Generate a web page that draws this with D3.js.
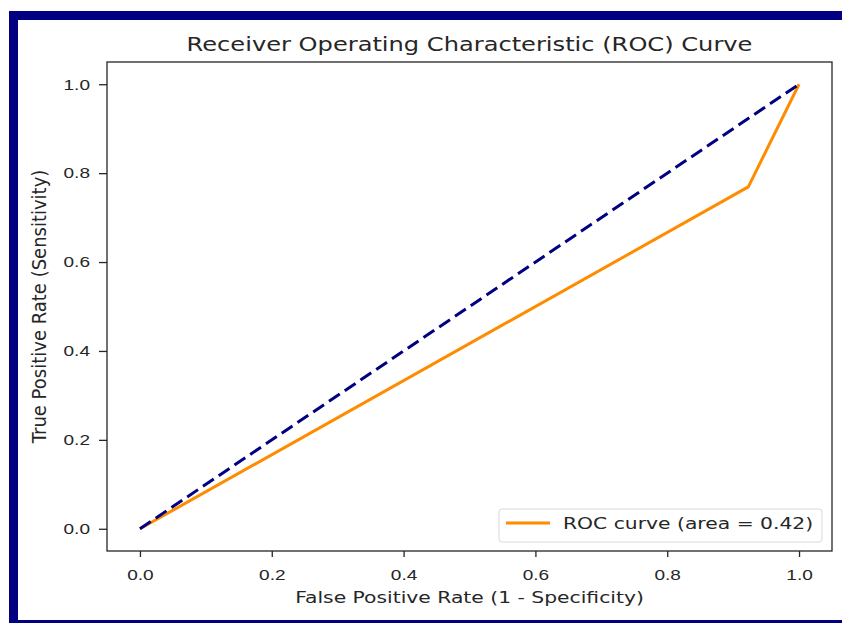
<!DOCTYPE html>
<html lang="en">
<head>
<meta charset="utf-8">
<title>ROC Curve</title>
<script src="https://cdn.jsdelivr.net/npm/d3@7"></script>
<style>
  body { margin: 0; background: #fff; }
  svg { display: block; font-family: "DejaVu Sans", sans-serif; }
  .axis text { fill: #262626; }
  .axis path, .axis line { stroke: #262626; stroke-width: 1.3px; }
</style>
</head>
<body>
<script>
// data
var fpr = [0, 0.923, 1];
var tpr = [0, 0.769, 1];
var chanceX = [0, 1];
var chanceY = [0, 1];
var xTicks = [0, 0.2, 0.4, 0.6, 0.8, 1.0];
var yTicks = [0, 0.2, 0.4, 0.6, 0.8, 1.0];
var auc = 0.42;

var w = 842, h = 623;
var m = { left: 107, right: 832, top: 62, bottom: 551 };
var sx = 1.27; // the picture is wider than tall, text is stretched sideways

var svg = d3.select("body").append("svg")
    .attr("width", w)
    .attr("height", h);

// navy frame
svg.append("rect").attr("x", 9).attr("y", 11).attr("width", w - 9).attr("height", 9).attr("fill", "#000080");
svg.append("rect").attr("x", 9).attr("y", 11).attr("width", 9).attr("height", h - 11).attr("fill", "#000080");
svg.append("rect").attr("x", 9).attr("y", 620).attr("width", w - 9).attr("height", 3).attr("fill", "#000080");

var xScale = d3.scaleLinear().domain([-0.05, 1.05]).range([m.left, m.right]);
var yScale = d3.scaleLinear().domain([-0.05, 1.05]).range([m.bottom, m.top]);

var line = d3.line()
    .x(function(d) { return xScale(d[0]); })
    .y(function(d) { return yScale(d[1]); });

svg.append("path")
   .datum(fpr.map(function(v, i) { return [v, tpr[i]]; }))
   .attr("d", line)
   .attr("fill", "none")
   .attr("stroke", "#ff8c00")
   .attr("stroke-width", 3);

svg.append("path")
   .datum(chanceX.map(function(v, i) { return [v, chanceY[i]]; }))
   .attr("d", line)
   .attr("fill", "none")
   .attr("stroke", "#000080")
   .attr("stroke-width", 3)
   .attr("stroke-dasharray", "13,6");

// axes
var xAxis = d3.axisBottom(xScale).tickValues(xTicks).tickFormat(d3.format(".1f")).tickSize(6).tickPadding(0);
var yAxis = d3.axisLeft(yScale).tickValues(yTicks).tickFormat(d3.format(".1f")).tickSize(8).tickPadding(0);

svg.append("g").attr("class", "axis")
   .attr("transform", "translate(0," + m.bottom + ")")
   .call(xAxis)
   .call(function(g) {
       g.select(".domain").remove();
       g.selectAll("text")
        .attr("font-family", null).attr("font-size", "15px")
        .attr("dy", null).attr("y", null)
        .attr("transform", "translate(0,29) scale(" + sx + ",1)");
   });

svg.append("g").attr("class", "axis")
   .attr("transform", "translate(" + m.left + ",0)")
   .call(yAxis)
   .call(function(g) {
       g.select(".domain").remove();
       g.selectAll("text")
        .attr("font-family", null).attr("font-size", "15px")
        .attr("x", null)
        .attr("transform", "translate(-17,0) scale(" + sx + ",1)");
   });

// frame of axes
svg.append("rect")
   .attr("x", m.left).attr("y", m.top)
   .attr("width", m.right - m.left).attr("height", m.bottom - m.top)
   .attr("fill", "none").attr("stroke", "#262626").attr("stroke-width", 1.3);

// title & labels
svg.append("text")
   .attr("transform", "translate(" + ((m.left + m.right) / 2) + ",51) scale(" + sx + ",1)")
   .attr("text-anchor", "middle")
   .attr("font-size", "19px").attr("fill", "#262626")
   .text("Receiver Operating Characteristic (ROC) Curve");

svg.append("text")
   .attr("transform", "translate(" + ((m.left + m.right) / 2) + ",603) scale(" + sx + ",1)")
   .attr("text-anchor", "middle")
   .attr("font-size", "16px").attr("fill", "#262626")
   .text("False Positive Rate (1 - Specificity)");

svg.append("text")
   .attr("transform", "translate(46," + ((m.top + m.bottom) / 2) + ") scale(1.1,1) rotate(-90)")
   .attr("text-anchor", "middle")
   .attr("font-size", "18px").attr("fill", "#262626")
   .text("True Positive Rate (Sensitivity)");

// legend
var lg = svg.append("g");
lg.append("rect")
  .attr("x", 499).attr("y", 509).attr("width", 323).attr("height", 33)
  .attr("rx", 3).attr("fill", "#fff").attr("fill-opacity", 0.8)
  .attr("stroke", "#d9d9d9").attr("stroke-width", 1);
lg.append("line")
  .attr("x1", 506).attr("x2", 550).attr("y1", 523).attr("y2", 523)
  .attr("stroke", "#ff8c00").attr("stroke-width", 3);
lg.append("text")
  .attr("transform", "translate(563,529) scale(" + sx + ",1)")
  .attr("font-size", "16px").attr("fill", "#262626")
  .text("ROC curve (area = " + auc.toFixed(2) + ")");
</script>
</body>
</html>
